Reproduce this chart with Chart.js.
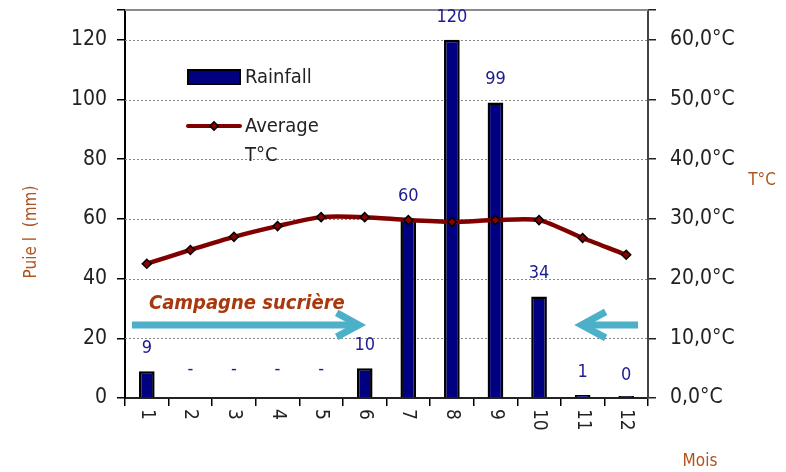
<!DOCTYPE html>
<html>
<head>
<meta charset="utf-8">
<script src="https://cdn.jsdelivr.net/npm/chart.js@4.4.1/dist/chart.umd.min.js"></script>
<style>
  html, body { margin: 0; padding: 0; background: #fff; }
  #wrap { width: 786px; height: 472px; }
</style>
</head>
<body>
<div id="wrap"><canvas id="c" width="786" height="472"></canvas></div>
<script>
const months   = ['1', '2', '3', '4', '5', '6', '7', '8', '9', '10', '11', '12']
const rainfall = [9, null, null, null, null, 10, 60, 120, 99, 34, 1, 0]
const rainText = ['9', '-', '-', '-', '-', '10', '60', '120', '99', '34', '1', '0']
const tempAvg  = [22.5, 24.8, 27.0, 28.8, 30.3, 30.3, 29.8, 29.5, 29.8, 29.8, 26.8, 24.0]

const FONT  = '"Liberation Sans Narrow", "DejaVu Sans Condensed", "Liberation Sans", sans-serif'
const BROWN = '#b0541f'
const CYAN  = '#4bb0c8'

const overlay = {
  id: 'overlay',
  beforeDatasetsDraw(chart) {
    const { ctx, chartArea: a, scales } = chart
    const y = scales.y
    ctx.save()
    // dotted grid
    ctx.strokeStyle = '#8a8a8a'
    ctx.lineWidth = 1
    ctx.setLineDash([2, 2])
    for (let v = 20; v <= 120; v += 20) {
      const py = Math.round(y.getPixelForValue(v)) + 0.5
      ctx.beginPath(); ctx.moveTo(a.left, py); ctx.lineTo(a.right, py); ctx.stroke()
    }
    ctx.setLineDash([])
    // top border
    ctx.strokeStyle = '#8c8c8c'
    ctx.lineWidth = 2
    ctx.beginPath(); ctx.moveTo(a.left, a.top); ctx.lineTo(a.right, a.top); ctx.stroke()
    ctx.restore()
  },
  afterDraw(chart) {
    const { ctx, chartArea: a, scales } = chart
    const x = scales.x, y = scales.y
    ctx.save()

    // x labels, rotated clockwise
    ctx.fillStyle = '#222'
    ctx.font = '19px ' + FONT
    ctx.textAlign = 'left'
    ctx.textBaseline = 'middle'
    months.forEach((m, i) => {
      ctx.save()
      ctx.translate(x.getPixelForValue(i), a.bottom + 11)
      ctx.rotate(Math.PI / 2)
      ctx.fillText(m, 0, 0)
      ctx.restore()
    })

    // bar value labels
    ctx.fillStyle = '#1c1c8e'
    ctx.font = '18px ' + FONT
    ctx.textAlign = 'center'
    ctx.textBaseline = 'middle'
    rainText.forEach((t, i) => {
      const v = rainfall[i] == null ? 0 : rainfall[i]
      const off = rainfall[i] == null ? 29 : 23
      ctx.fillText(t, x.getPixelForValue(i), y.getPixelForValue(v) - off)
    })

    // axis titles
    ctx.fillStyle = BROWN
    ctx.font = '17px ' + FONT
    ctx.save()
    ctx.translate(32, (a.top + a.bottom) / 2 + 28)
    ctx.rotate(-Math.PI / 2)
    ctx.textBaseline = 'middle'
    ctx.fillText('Puie l  (mm)', 0, 0)
    ctx.restore()
    ctx.textBaseline = 'middle'
    ctx.fillText('T°C', 762, 181)
    ctx.fillText('Mois', 700, 462)

    // legend
    ctx.fillStyle = '#000080'
    ctx.fillRect(188, 70, 52, 14)
    ctx.strokeStyle = '#000'
    ctx.lineWidth = 2
    ctx.strokeRect(188, 70, 52, 14)
    ctx.strokeStyle = '#800000'
    ctx.lineWidth = 4
    ctx.lineCap = 'round'
    ctx.beginPath(); ctx.moveTo(188, 126); ctx.lineTo(240, 126); ctx.stroke()
    ctx.save()
    ctx.translate(214, 126); ctx.rotate(Math.PI / 4)
    ctx.fillStyle = '#8b0000'; ctx.fillRect(-3, -3, 6, 6)
    ctx.lineWidth = 1.5; ctx.strokeStyle = '#000'; ctx.strokeRect(-3, -3, 6, 6)
    ctx.restore()
    ctx.fillStyle = '#222'
    ctx.font = '20px ' + FONT
    ctx.textAlign = 'left'
    ctx.fillText('Rainfall', 245, 78)
    ctx.fillText('Average', 245, 127)
    ctx.fillText('T°C', 245, 156)

    // Campagne sucrière arrows
    const ay = y.getPixelForValue(24.5)
    ctx.strokeStyle = CYAN
    ctx.lineWidth = 7
    ctx.lineCap = 'butt'
    ctx.lineJoin = 'miter'
    const x0 = a.left + 7, x1 = x.getPixelForValue(5) - 4
    ctx.beginPath(); ctx.moveTo(x0, ay); ctx.lineTo(x1 - 4, ay); ctx.stroke()
    ctx.beginPath(); ctx.moveTo(x1 - 24, ay - 12); ctx.lineTo(x1 - 2, ay); ctx.lineTo(x1 - 24, ay + 12); ctx.stroke()
    const r0 = a.right - 10, r1 = x.getPixelForValue(10) - 3
    ctx.beginPath(); ctx.moveTo(r0, ay); ctx.lineTo(r1 + 4, ay); ctx.stroke()
    ctx.beginPath(); ctx.moveTo(r1 + 26, ay - 13); ctx.lineTo(r1 + 2, ay); ctx.lineTo(r1 + 26, ay + 13); ctx.stroke()

    ctx.fillStyle = '#a8380e'
    ctx.font = 'italic bold 20px ' + FONT
    ctx.textAlign = 'left'
    ctx.textBaseline = 'middle'
    ctx.fillText('Campagne sucrière', 149, ay - 21)
    ctx.restore()
  }
}

const fitY = w => s => { s.width = w; s.paddingTop = 0; s.paddingBottom = 0 }

new Chart(document.getElementById('c'), {
  data: {
    labels: months,
    datasets: [
      {
        type: 'line',
        label: 'Average T°C',
        data: tempAvg,
        yAxisID: 'y1',
        borderColor: '#800000',
        borderWidth: 4.5,
        tension: 0.25,
        pointStyle: 'rectRot',
        pointRadius: 4.5,
        pointBackgroundColor: '#8b0000',
        pointBorderColor: '#000',
        pointBorderWidth: 1.5,
        order: 0
      },
      {
        type: 'bar',
        label: 'Rainfall',
        data: rainfall,
        yAxisID: 'y',
        backgroundColor: '#000080',
        borderColor: '#000',
        borderWidth: 2.5,
        minBarLength: 2,
        barPercentage: 0.72,
        categoryPercentage: 0.5,
        order: 1
      }
    ]
  },
  options: {
    responsive: false,
    animation: false,
    layout: { padding: { top: 10, left: 0, right: 0, bottom: 0 } },
    plugins: { legend: { display: false }, tooltip: { enabled: false } },
    scales: {
      x: {
        offset: true,
        grid: { offset: true, drawOnChartArea: false, drawTicks: true, tickLength: 8, color: '#000', lineWidth: 1.5 },
        border: { color: '#222', width: 2 },
        ticks: { display: false },
        afterFit: s => { s.height = 74; s.paddingLeft = 0; s.paddingRight = 0 }
      },
      y: {
        position: 'left',
        min: 0, max: 130,
        ticks: {
          stepSize: 20, color: '#222', padding: 10,
          font: { family: FONT, size: 21 },
          callback: v => (v % 20 === 0 && v <= 120) ? String(v) : ''
        },
        grid: { drawOnChartArea: false, drawTicks: true, tickLength: 8, color: '#000', lineWidth: 1.5 },
        border: { color: '#000', width: 2 },
        afterFit: fitY(125)
      },
      y1: {
        position: 'right',
        min: 0, max: 65,
        ticks: {
          stepSize: 10, color: '#222', padding: 14,
          font: { family: FONT, size: 21 },
          callback: v => (v % 10 === 0 && v <= 60) ? v.toFixed(1).replace('.', ',') + '°C' : ''
        },
        grid: { drawOnChartArea: false, drawTicks: true, tickLength: 8, color: '#222', lineWidth: 1.5 },
        border: { color: '#444', width: 2 },
        afterFit: fitY(138)
      }
    }
  },
  plugins: [overlay]
})
</script>
</body>
</html>
